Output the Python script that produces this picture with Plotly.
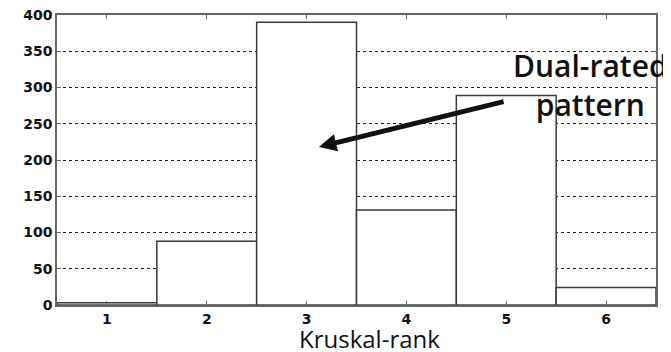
import plotly.graph_objects as go

ranks = [1, 2, 3, 4, 5, 6]
counts = [3, 88, 390, 131, 289, 24]
y_ticks = [0, 50, 100, 150, 200, 250, 300, 350, 400]
x_title = "Kruskal-rank"
note_text = "Dual-rated<br>pattern"

fig = go.Figure()
fig.add_trace(go.Bar(
    x=ranks, y=counts, width=1,
    marker=dict(color="white", line=dict(color="#3a3a3a", width=1.5)),
))

tick_font = dict(family="DejaVu Sans", size=14, color="#111", weight="bold")

# page body has an 8px default margin; compensate so the plot area lands where the reference has it
fig.update_layout(
    width=663, height=344,
    margin=dict(l=49, r=15, t=7, b=47),
    plot_bgcolor="white", paper_bgcolor="white",
    showlegend=False,
    xaxis=dict(
        range=[0.5, 6.5], tickvals=ranks, ticktext=[str(r) for r in ranks],
        showgrid=False, zeroline=False, automargin=False,
        showline=True, linecolor="#666", linewidth=1.5, mirror="ticks",
        ticks="inside", ticklen=4, tickcolor="#666",
        tickfont=tick_font, ticklabeloverflow="allow",
    ),
    yaxis=dict(
        range=[0, 400], tickvals=y_ticks,
        showgrid=True, gridcolor="#222", griddash="3px,3px", gridwidth=1,
        zeroline=False, automargin=False,
        showline=True, linecolor="#666", linewidth=1.5, mirror="ticks",
        ticks="inside", ticklen=4, tickcolor="#666",
        tickfont=tick_font, ticklabeloverflow="allow",
    ),
    annotations=[
        dict(x=3.124, y=218, ax=4.988, ay=281, xref="x", yref="y", axref="x", ayref="y",
             showarrow=True, arrowhead=2, arrowsize=0.7, arrowwidth=5, arrowcolor="#111", text=""),
        dict(x=5.84, y=303, xref="x", yref="y", text=note_text, showarrow=False,
             font=dict(family="Open Sans", size=30, color="#111", weight=600), align="center"),
        dict(x=0.521, y=0, xref="paper", yref="paper", xanchor="center", yanchor="top",
             yshift=-15, text=x_title, showarrow=False,
             font=dict(family="Open Sans", size=24, color="#111")),
    ],
)

fig.write_html("out.html")
